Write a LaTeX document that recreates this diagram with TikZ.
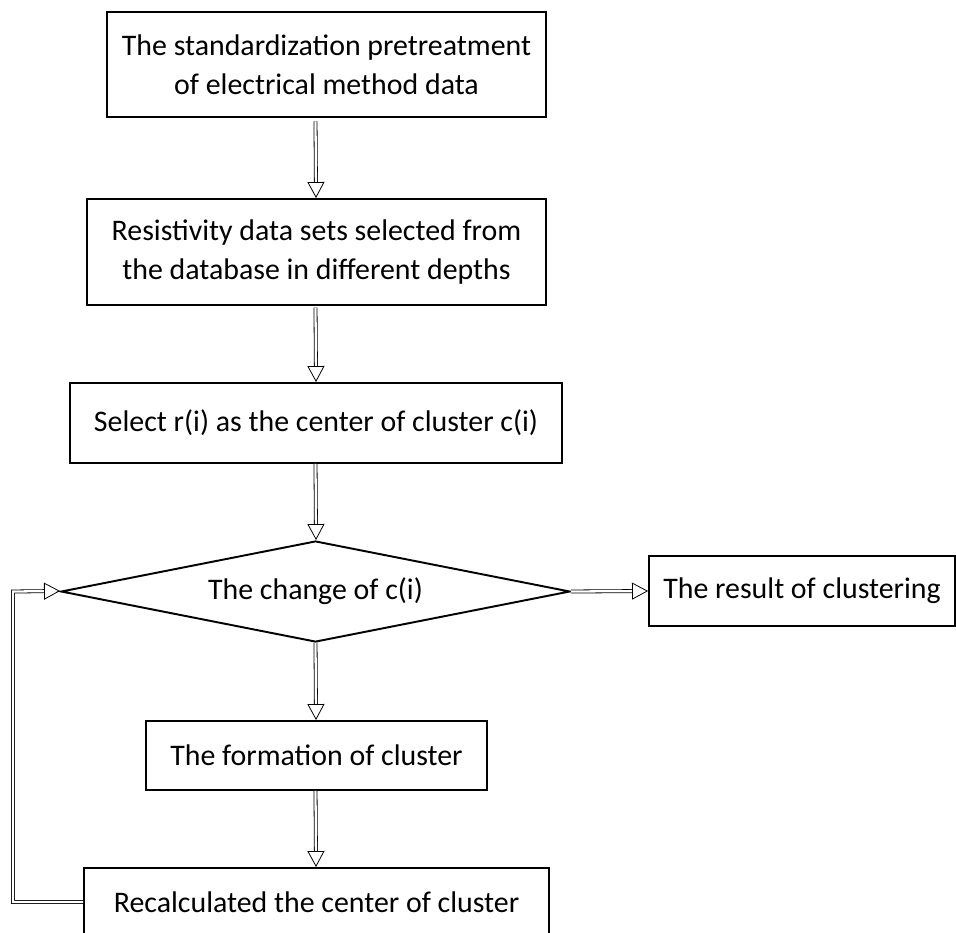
\documentclass[tikz,border=0pt]{standalone}
\usepackage{fontspec}
\setmainfont{Carlito}
\usepackage{tikz}
\usetikzlibrary{arrows.meta,positioning,shapes.geometric}

\begin{document}
\begin{tikzpicture}[
    box/.style={draw, line width=1.1pt, align=center, inner sep=0pt, font=\fontsize{17}{22}\selectfont},
    decision/.style={draw, diamond, aspect=5.04, line width=1.1pt, inner sep=0pt, font=\fontsize{17}{22}\selectfont},
    flow/.style={double, double distance=1.3pt, line width=0.45pt, -{Triangle[open, length=0.32cm, width=0.34cm]}}
]
\useasboundingbox (0,0) rectangle (19.12,-18.64);

% Pretreatment
\node[box, minimum width=8.78cm, minimum height=2.1cm] (pre) at (6.53,-1.29) {The standardization pretreatment\\of electrical method data};

% Data sets
\node[box, minimum width=9.18cm, minimum height=2.12cm] (data) at (6.33,-5.04) {Resistivity data sets selected from\\the database in different depths};

% Select center
\node[box, minimum width=9.84cm, minimum height=1.6cm] (select) at (6.32,-8.46) {Select r(i) as the center of cluster c(i)};

% Decision
\node[decision, minimum width=10.18cm, minimum height=2.02cm] (change) at (6.31,-11.83) {The change of c(i)};

% Result
\node[box, minimum width=6.12cm, minimum height=1.4cm] (result) at (16.04,-11.82) {The result of clustering};

% Formation
\node[box, minimum width=6.82cm, minimum height=1.38cm] (form) at (6.33,-15.11) {The formation of cluster};

% Recalculation
\node[box, minimum width=9.3cm, minimum height=1.36cm] (recalc) at (6.33,-18.04) {Recalculated the center of cluster};

% Arrows
\draw[flow] ([yshift=-2pt]pre.south -| change.north) -- ([xshift=0.3pt]data.north -| change.north);
\draw[flow] ([yshift=-1pt]data.south -| change.north) -- ([xshift=0.3pt]select.north -| change.north);
\draw[flow] (select.south -| change.north) -- ([xshift=0.3pt]change.north);
\draw[flow] (change.south) -- ([xshift=0.3pt]form.north -| change.south);
\draw[flow] (form.south -| change.south) -- ([xshift=0.3pt]recalc.north -| change.south);
\draw[flow] (change.east) -- (result.west);

% Loop back
\coordinate (back) at (0.26,-15);
\draw[flow] (recalc.west) -| (back) -- (back |- change.west) -- ([yshift=0.3pt]change.west);

\end{tikzpicture}
\end{document}
